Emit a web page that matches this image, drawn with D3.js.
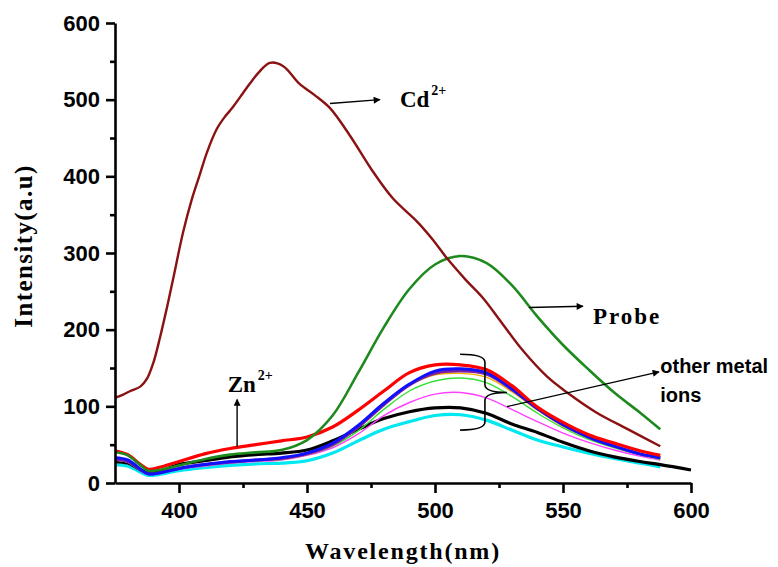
<!DOCTYPE html>
<html>
<head>
<meta charset="utf-8">
<script src="https://cdn.jsdelivr.net/npm/d3@7"></script>
<style>
  body { margin: 0; background: #fff; }
  svg { display: block; }
</style>
</head>
<body>
<div class="chart-area"></div>
<script>
// wavelength grid shared by the metal-ion spectra
const wl = [375,380,385,388,392,400,410,420,430,440,450,460,470,480,490,500,510,520,530,540,550,560,570,580,588];

const probe   = [40,36,23,16,17,23,31,37,40,43,56,88,144,203,253,285,296,287,258,217,180,148,118,92,70];
const zn      = [42,37,24,18,20,28,38,45,50,55,60,73,95,120,144,154,154,148,127,99,79,63,52,42,36];
const blue    = [33,30,18,12,13,19,24,28,30,33,39,52,75,104,129,146,149,144,123,97,76,60,48,38,33];
const purple  = [31,28,17,12,13,19,24,27,30,32,38,50,73,102,128,143,146,142,122,97,76,60,48,38,33];
const orange  = [31,28,17,12,13,19,23,27,29,31,37,49,72,101,127,141,143,138,119,95,74,59,47,38,32];
const lgreen  = [30,27,16,12,13,19,23,27,29,31,37,48,68,96,120,133,137,131,113,91,72,57,46,37,31];
const magenta = [30,27,16,12,13,18,22,26,28,30,36,46,64,88,105,116,118,111,96,80,65,53,43,35,30];
const cyan    = [24,22,14,10,11,16,20,23,25,26,29,39,55,70,80,88,89,82,69,56,47,39,32,26,21];

// black runs a little further
const wlBlack = [375,380,385,388,392,400,410,420,430,440,450,460,470,480,490,500,510,520,530,540,550,560,570,580,588,600];
const black   = [28,26,17,14,15,24,29,34,37,39,43,55,70,84,93,98,98,91,77,66,53,42,34,28,24,17];

// Cd2+ spectrum
const wlCd = [375,378,381,385,387.5,390,392.6,395.3,397.7,401.6,405,408,411,414.8,418,421,424,427.7,431,435.5,440.6,447,453,459,466.8,475.8,483.6,493,499,504.7,512,518.8,525.4,534,543.7,551.6,563,576,588];
const cd   = [111,115,120,126,136,157,190,229,266,327,370,401,432,462,478,490,504,521,535,548,544,521,506,489,453,406,371,341,318,293,265,241,212,174,139,118,92,69,48];

const series = [
  {x: wl, y: cyan, color: "#00e8f0", w: 3.2},
  {x: wlBlack, y: black, color: "#000000", w: 3.2},
  {x: wl, y: magenta, color: "#ff40ff", w: 1.4},
  {x: wl, y: lgreen, color: "#33e033", w: 1.4},
  {x: wl, y: orange, color: "#f0b000", w: 1.4},
  {x: wl, y: purple, color: "#8020a0", w: 3},
  {x: wl, y: blue, color: "#1010ff", w: 3},
  {x: wl, y: zn, color: "#ff0000", w: 3.2},
  {x: wl, y: probe, color: "#1e8a1e", w: 2.6},
  {x: wlCd, y: cd, color: "#8b1212", w: 2.4}
];

const xTicks = [400,450,500,550,600];
const yTicks = [0,100,200,300,400,500,600];

const width = 778, height = 567;
const svg = d3.select(".chart-area").append("svg")
  .attr("width", width).attr("height", height);

const x = d3.scaleLinear().domain([375,600]).range([115,691]);
const y = d3.scaleLinear().domain([0,600]).range([483,23]);

svg.append("defs").append("marker")
  .attr("id","head").attr("viewBox","0 0 10 10")
  .attr("refX",9).attr("refY",5)
  .attr("markerWidth",7).attr("markerHeight",5)
  .attr("orient","auto")
  .append("path").attr("d","M0,0L10,5L0,10z").attr("fill","#000");

// curves
const line = d3.line().x(d=>x(d[0])).y(d=>y(d[1])).curve(d3.curveCatmullRom.alpha(0.5));
svg.append("g").selectAll("path")
  .data(series)
  .join("path")
  .attr("d", s => line(s.x.map((v,i)=>[v, s.y[i]])))
  .attr("fill","none")
  .attr("stroke", s=>s.color)
  .attr("stroke-width", s=>s.w)
  .attr("stroke-linejoin","round");

// axes
const tickFont = "bold 22px 'Liberation Sans', Arial, sans-serif";
svg.append("g").attr("transform","translate(0,483)")
  .call(d3.axisBottom(x).tickValues(xTicks).tickSize(10).tickPadding(9).tickSizeOuter(0));
svg.append("g").attr("transform","translate(0,483)")
  .call(d3.axisBottom(x).tickValues([425,475,525,575]).tickSize(5).tickFormat("").tickSizeOuter(0))
  .select(".domain").remove();
svg.append("g").attr("transform","translate(115,0)")
  .call(d3.axisLeft(y).tickValues(yTicks).tickSize(9).tickPadding(6).tickSizeOuter(0));
svg.append("g").attr("transform","translate(115,0)")
  .call(d3.axisLeft(y).tickValues([50,150,250,350,450,550]).tickSize(5).tickFormat("").tickSizeOuter(0))
  .select(".domain").remove();

svg.selectAll(".domain").attr("stroke","#000").attr("stroke-width",2.6);
svg.selectAll(".tick line").attr("stroke","#000").attr("stroke-width",2.6);
svg.selectAll(".tick text").style("font", tickFont).attr("fill","#000");

// axis titles
const serif = "'Liberation Serif', 'Times New Roman', serif";
svg.append("text")
  .attr("x", 403).attr("y", 559)
  .attr("text-anchor","middle")
  .style("font-family", serif).style("font-weight","bold").style("font-size","24px")
  .style("letter-spacing","1.8px")
  .text("Wavelength(nm)");
svg.append("text")
  .attr("transform","translate(32,246) rotate(-90)")
  .attr("text-anchor","middle")
  .style("font-family", serif).style("font-weight","bold").style("font-size","25px")
  .style("letter-spacing","1.4px")
  .text("Intensity(a.u)");

// annotations (data units)
function arrow(x1,y1,x2,y2){
  svg.append("line")
    .attr("x1",x(x1)).attr("y1",y(y1)).attr("x2",x(x2)).attr("y2",y(y2))
    .attr("stroke","#000").attr("stroke-width",1.4)
    .attr("marker-end","url(#head)");
}
function ionLabel(lx, ly, base, sup, spacing){
  const t = svg.append("text")
    .attr("x", x(lx)).attr("y", y(ly))
    .style("font-family", serif).style("font-weight","bold").style("font-size","23px")
    .style("letter-spacing", spacing || "0px");
  t.append("tspan").text(base);
  if (sup) t.append("tspan").attr("dy",-12).attr("dx",2).style("font-size","14px").text(sup);
}

arrow(459,495,478.5,500);
ionLabel(486.3,491,"Cd","2+");

arrow(536.7,229,557.8,230.5);
ionLabel(561.7,207,"Probe",null,"2px");

arrow(422.7,47,422.7,109);
ionLabel(419,119,"Zn","2+");

// brace around the other ions
const bx0 = x(509.8), bx1 = x(519.5), bxp = x(528.1);
const by0 = y(168), bym = y(118), by1 = y(69);
svg.append("path")
  .attr("d", `M${bx0},${by0} Q${bx1},${by0} ${bx1},${by0+8} L${bx1},${bym-8} Q${bx1},${bym} ${bxp},${bym}`
    + ` Q${bx1},${bym} ${bx1},${bym+8} L${bx1},${by1-8} Q${bx1},${by1} ${bx0},${by1}`)
  .attr("fill","none").attr("stroke","#000").attr("stroke-width",1.6);

arrow(528.1,99.6,587.5,145);
const sans = "'Liberation Sans', Arial, sans-serif";
svg.append("text").attr("x", x(588)).attr("y", y(144))
  .style("font", "bold 20px " + sans).text("other metal");
svg.append("text").attr("x", x(588)).attr("y", y(106))
  .style("font", "bold 20px " + sans).text("ions");
</script>
</body>
</html>
